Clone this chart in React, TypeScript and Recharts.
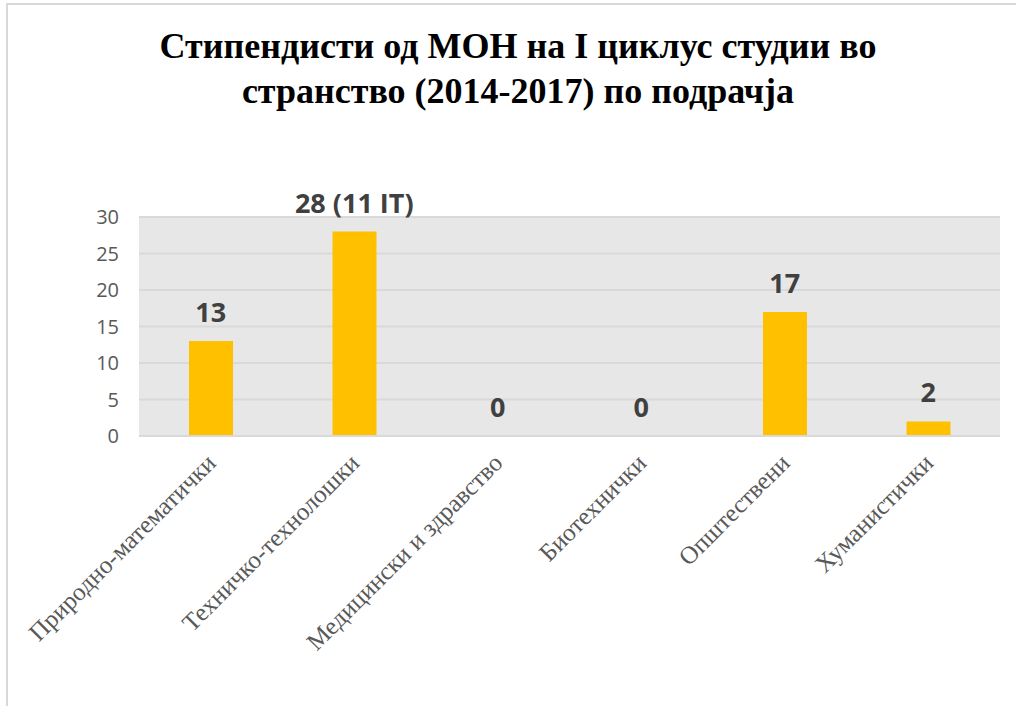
import { ComposedChart, Bar, Line, XAxis, YAxis, CartesianGrid, LabelList } from 'recharts';

const categories = [
  'Природно-математички',
  'Техничко-технолошки',
  'Медицински и здравство',
  'Биотехнички',
  'Општествени',
  'Хуманистички',
];
const values = [13, 28, 0, 0, 17, 2];
const valueLabels = ['13', '28 (11 IT)', '0', '0', '17', '2'];
const yTicks = [0, 5, 10, 15, 20, 25, 30];

const data = categories.map((name, i) => ({ name, value: values[i], label: valueLabels[i] }));

function AngledTick(props: any) {
  const { x, y, payload } = props;
  return (
    <text
      x={x}
      y={y}
      transform={`rotate(-45, ${x}, ${y})`}
      textAnchor="end"
      fill="#595959"
      fontSize={25}
      fontFamily="'Liberation Serif', serif"
      dy={19}
      dx={-10}
    >
      {payload.value}
    </text>
  );
}

// labels hang off an invisible line so the zero bars get theirs too
function ValueLabel(props: any) {
  const { x, y, value } = props;
  return (
    <text
      x={x}
      y={y - 19}
      textAnchor="middle"
      fill="#404040"
      fontSize={27}
      fontWeight="bold"
      fontFamily="'Open Sans', sans-serif"
    >
      {value}
    </text>
  );
}

export default function App() {
  return (
    <div style={{ position: 'fixed', left: 0, top: 0, width: 1016, height: 706, overflow: 'hidden', background: '#fff' }}>
      <div
        style={{
          position: 'absolute',
          left: 6,
          top: 3,
          width: 1100,
          height: 800,
          borderLeft: '2px solid #d9d9d9',
          borderTop: '2px solid #d9d9d9',
        }}
      />
      <div
        style={{
          position: 'absolute',
          left: 0,
          top: 24,
          width: 1036,
          textAlign: 'center',
          fontFamily: "'Liberation Serif', serif",
          fontWeight: 'bold',
          fontSize: 36,
          lineHeight: '45px',
          color: '#000',
        }}
      >
        Стипендисти од МОН на I циклус студии во
        <br />
        странство (2014-2017) по подрачја
      </div>
      <div style={{ position: 'absolute', left: 0, top: 0 }}>
        <ComposedChart width={1016} height={706} data={data} margin={{ top: 217, right: 16, bottom: 0, left: 79 }} barCategoryGap={0}>
          <CartesianGrid vertical={false} fill="#e7e7e7" stroke="#d9d9d9" strokeWidth={2} />
          <XAxis
            dataKey="name"
            tick={<AngledTick />}
            tickLine={false}
            axisLine={{ stroke: '#d9d9d9', strokeWidth: 2 }}
            interval={0}
            height={270}
          />
          <YAxis
            domain={[0, 30]}
            ticks={yTicks}
            width={60}
            tickLine={false}
            axisLine={false}
            tickMargin={14}
            tick={{ fill: '#595959', fontSize: 20, fontFamily: "'Open Sans', sans-serif" }}
          />
          <Bar dataKey="value" fill="#FFC000" barSize={44} isAnimationActive={false} />
          <Line dataKey="value" stroke="none" dot={false} activeDot={false} isAnimationActive={false}>
            <LabelList dataKey="label" content={<ValueLabel />} />
          </Line>
        </ComposedChart>
      </div>
    </div>
  );
}
